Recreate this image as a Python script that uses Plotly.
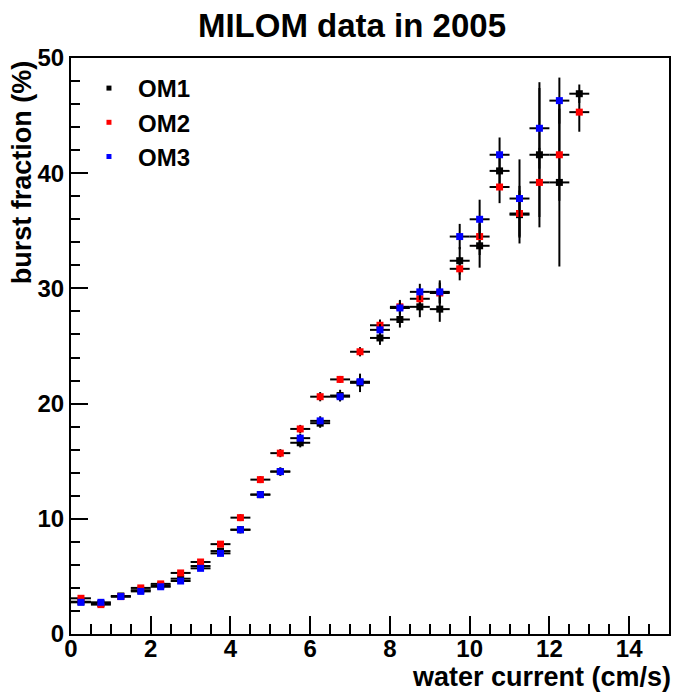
import plotly.graph_objects as go

# bin centres (cm/s) and half bin width
current = [0.25, 0.75, 1.25, 1.75, 2.25, 2.75, 3.25, 3.75, 4.25, 4.75, 5.25, 5.75, 6.25,
           6.75, 7.25, 7.75, 8.25, 8.75, 9.25, 9.75, 10.25, 10.75, 11.25, 11.75, 12.25, 12.75]
half_width = 0.25

om1 = [2.8, 2.65, 3.3, 3.8, 4.2, 4.8, 5.9, 7.2, 9.05, 12.1, 14.1, 16.6, 18.3,
       20.7, 21.8, 25.7, 27.3, 28.4, 28.2, 32.4, 33.7, 40.2, 36.4, 41.6, 39.2, 46.9]
om1_err = [0.15, 0.15, 0.15, 0.15, 0.2, 0.2, 0.2, 0.25, 0.3, 0.3, 0.35, 0.4, 0.4,
           0.5, 0.8, 0.6, 0.7, 0.9, 1.1, 1.2, 1.9, 1.5, 2.5, 6.3, 7.3, 0.8]

om2 = [3.1, 2.55, 3.25, 4.0, 4.35, 5.3, 6.25, 7.8, 10.1, 13.4, 15.7, 17.8, 20.6,
       22.1, 24.5, 26.8, 28.4, 29.1, 29.6, 31.7, 34.5, 38.8, 36.5, 39.2, 41.6, 45.3]
om2_err = [0.15, 0.15, 0.15, 0.15, 0.2, 0.2, 0.2, 0.25, 0.3, 0.3, 0.35, 0.35, 0.4,
           0.3, 0.4, 0.5, 0.6, 0.7, 0.9, 1.0, 1.6, 1.4, 2.0, 3.0, 4.0, 1.7]

om3 = [2.75, 2.75, 3.25, 3.7, 4.1, 4.6, 5.7, 7.0, 9.05, 12.1, 14.1, 17.0, 18.5,
       20.6, 21.9, 26.4, 28.3, 29.7, 29.7, 34.5, 36.0, 41.6, 37.8, 43.9, 46.3, None]
om3_err = [0.15, 0.15, 0.15, 0.15, 0.2, 0.2, 0.2, 0.25, 0.3, 0.3, 0.35, 0.4, 0.4,
           0.4, 0.5, 0.5, 0.6, 0.7, 1.0, 1.1, 1.7, 1.5, 3.4, 3.5, 2.0, 0.0]

series = [("OM1", om1, om1_err, "#000000"),
          ("OM2", om2, om2_err, "#ff0000"),
          ("OM3", om3, om3_err, "#0000ff")]

x_ticks = [0, 2, 4, 6, 8, 10, 12, 14]
y_ticks = [0, 10, 20, 30, 40, 50]

FONT = "Liberation Sans"

fig = go.Figure()
for name, vals, errs, col in series:
    fig.add_trace(go.Scatter(
        x=current, y=vals, mode="markers", name=name, showlegend=False,
        marker=dict(symbol="square", size=7, color=col, line=dict(width=0)),
        error_x=dict(type="constant", value=half_width, color="black", thickness=2, width=0),
        error_y=dict(type="data", array=errs, color="black", thickness=2, width=0),
    ))
for name, vals, errs, col in series:
    fig.add_trace(go.Scatter(
        x=[None], y=[None], mode="markers", name=name, legendgroup=name,
        marker=dict(symbol="square", size=5, color=col, line=dict(width=0)),
    ))

axis_common = dict(
    showgrid=False, zeroline=False, showline=True, linecolor="black", linewidth=2,
    mirror=True, ticks="inside", tickcolor="black", tickwidth=2,
    tickfont=dict(family=FONT, size=24, color="black", weight="bold"),
)

fig.update_xaxes(range=[0, 15], tickvals=x_ticks, ticklen=18, ticklabelstandoff=-8,
                 minor=dict(dtick=0.5, tick0=0, ticks="inside", ticklen=10, tickwidth=2, tickcolor="black"),
                 **axis_common)
fig.update_yaxes(range=[0, 50], tickvals=y_ticks, ticklen=17,
                 minor=dict(dtick=2, tick0=0, ticks="inside", ticklen=9, tickwidth=2, tickcolor="black"),
                 **axis_common)

fig.update_layout(
    width=674, height=698,
    margin=dict(l=71, r=3, t=58, b=64),
    paper_bgcolor="white", plot_bgcolor="white",
    title=dict(text="MILOM data in 2005", x=352 / 674, xref="container", xanchor="center",
               y=1 - 25 / 698, yref="container", yanchor="middle",
               font=dict(family=FONT, size=33, color="black", weight="bold")),
    legend=dict(x=(80 - 71) / 600, y=1 - (66 - 58) / 576, xanchor="left", yanchor="top",
                bgcolor="rgba(0,0,0,0)", borderwidth=0, itemwidth=48,
                traceorder="grouped", tracegroupgap=0,
                font=dict(family=FONT, size=24, color="black", weight="bold")),
    annotations=[
        dict(text="water current (cm/s)", xref="paper", yref="paper", x=1.0, y=(634 - 677) / 576,
             xanchor="right", yanchor="middle", showarrow=False, xshift=4,
             font=dict(family=FONT, size=27, color="black", weight="bold")),
        dict(text="burst fraction (%)", xref="paper", yref="paper", x=(22 - 71) / 600, y=1.0,
             xanchor="center", yanchor="top", textangle=-90, showarrow=False,
             font=dict(family=FONT, size=27, color="black", weight="bold")),
    ],
)

fig.write_html("out.html")
